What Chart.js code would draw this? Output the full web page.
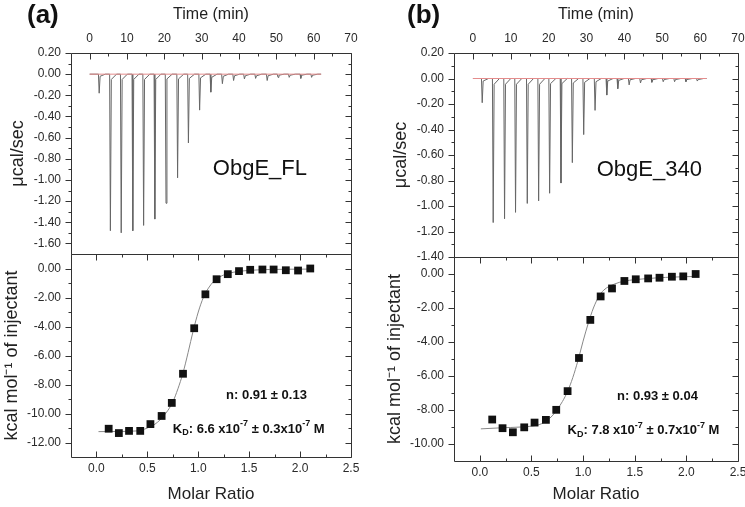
<!DOCTYPE html>
<html>
<head>
<meta charset="utf-8">
<script src="https://cdn.jsdelivr.net/npm/chart.js@4.4.0/dist/chart.umd.min.js"></script>
<style>
  html, body { margin: 0; padding: 0; background: #fff; }
  #wrap { position: relative; width: 745px; height: 507px; overflow: hidden; }
  #wrap canvas { position: absolute; left: 0; top: 0; }
  .tag { position: absolute; font: bold 26px "Liberation Sans", Arial, sans-serif; line-height: 1; color: #111; }
</style>
</head>
<body>
<div id="wrap">
  <canvas id="aTop" width="745" height="507"></canvas>
  <canvas id="aBot" width="745" height="507"></canvas>
  <canvas id="bTop" width="745" height="507"></canvas>
  <canvas id="bBot" width="745" height="507"></canvas>
  <div class="tag" style="left:27px;top:1px">(a)</div>
  <div class="tag" style="left:407px;top:1px">(b)</div>
</div>
<script>
const FONT = '"Liberation Sans", Arial, sans-serif';
const W = 745, H = 507;

// ticks
const timeTicks = [0, 10, 20, 30, 40, 50, 60, 70];
const timeMinor = [5, 15, 25, 35, 45, 55, 65];
const ratioTicks = [0, 0.5, 1, 1.5, 2, 2.5];
const ratioMinor = [0.25, 0.75, 1.25, 1.75, 2.25];
const powerTicksA = [0.2, 0, -0.2, -0.4, -0.6, -0.8, -1.0, -1.2, -1.4, -1.6];
const powerMinorA = [0.1, -0.1, -0.3, -0.5, -0.7, -0.9, -1.1, -1.3, -1.5];
const powerTicksB = [0.2, 0, -0.2, -0.4, -0.6, -0.8, -1.0, -1.2, -1.4];
const powerMinorB = [0.1, -0.1, -0.3, -0.5, -0.7, -0.9, -1.1, -1.3];
const heatTicksA = [0, -2, -4, -6, -8, -10, -12];
const heatMinorA = [-1, -3, -5, -7, -9, -11];
const heatTicksB = [0, -2, -4, -6, -8, -10];
const heatMinorB = [-1, -3, -5, -7, -9];

// raw thermogram, ObgE_FL (a)
const injTimeA = [2.4, 5.4, 8.3, 11.4, 14.3, 17.3, 20.3, 23.4, 26.3, 29.3, 32.3, 35.4, 38.4, 41.3, 44.3, 47.4, 50.3, 53.3, 56.4, 59.3];
const peakA = [-0.18, -1.48, -1.50, -1.48, -1.43, -1.37, -1.22, -0.98, -0.65, -0.34, -0.17, -0.09, -0.06, -0.045, -0.04, -0.06, -0.03, -0.03, -0.04, -0.03];
const tailA = [-0.02, -0.05, -0.05, -0.05, -0.05, -0.05, -0.045, -0.045, -0.04, -0.035, -0.03, -0.02, -0.015, -0.015, -0.015, -0.015, -0.01, -0.01, -0.01, -0.01];
const traceEndA = 62;
const baseTimeA = [0, 62];
const baseA = [0.0, 0.0];

// raw thermogram, ObgE_340 (b)
const injTimeB = [2.3, 5.2, 8.2, 11.1, 14.2, 17.2, 20.1, 23.1, 26.1, 29.1, 32.1, 35.2, 38.1, 41.1, 44.1, 47.1, 50.1, 53.1, 56.1, 59.1];
const peakB = [-0.19, -1.13, -1.10, -1.05, -0.98, -0.96, -0.90, -0.82, -0.66, -0.44, -0.25, -0.13, -0.08, -0.05, -0.035, -0.03, -0.025, -0.025, -0.025, -0.02];
const tailB = [-0.02, -0.045, -0.045, -0.045, -0.045, -0.045, -0.04, -0.04, -0.035, -0.03, -0.025, -0.02, -0.015, -0.01, -0.01, -0.01, -0.008, -0.008, -0.008, -0.008];
const traceEndB = 61.7;
const baseTimeB = [0, 61.7];
const baseB = [0.0, 0.0];

// integrated heats
const ratioA = [0.12, 0.22, 0.32, 0.43, 0.53, 0.64, 0.74, 0.85, 0.96, 1.07, 1.18, 1.29, 1.40, 1.51, 1.63, 1.74, 1.86, 1.98, 2.10];
const heatA = [-11.05, -11.35, -11.2, -11.2, -10.73, -10.17, -9.27, -7.26, -4.12, -1.78, -0.74, -0.39, -0.18, -0.09, -0.07, -0.07, -0.12, -0.14, 0.0];
const fitRatioA = [0.02, 0.2, 0.4, 0.5, 0.6, 0.7, 0.75, 0.8, 0.85, 0.9, 0.95, 1.0, 1.05, 1.1, 1.15, 1.2, 1.3, 1.4, 1.5, 1.7, 2.1];
const fitHeatA = [-11.25, -11.24, -11.2, -11.0, -10.6, -9.8, -9.2, -8.3, -7.2, -5.8, -4.3, -3.0, -2.0, -1.35, -0.9, -0.62, -0.33, -0.2, -0.13, -0.07, -0.04];

const ratioB = [0.12, 0.22, 0.32, 0.43, 0.53, 0.64, 0.74, 0.85, 0.96, 1.07, 1.17, 1.28, 1.40, 1.51, 1.63, 1.74, 1.86, 1.97, 2.09];
const heatB = [-8.56, -9.07, -9.31, -9.02, -8.74, -8.58, -7.99, -6.89, -4.94, -2.70, -1.32, -0.85, -0.41, -0.31, -0.26, -0.22, -0.16, -0.14, 0.0];
const fitRatioB = [0.01, 0.2, 0.4, 0.5, 0.6, 0.7, 0.8, 0.85, 0.9, 0.95, 1.0, 1.05, 1.1, 1.15, 1.2, 1.3, 1.4, 1.6, 1.8, 2.1];
const fitHeatB = [-9.11, -9.05, -9.0, -8.95, -8.8, -8.35, -7.5, -6.9, -6.1, -5.1, -3.95, -2.9, -2.0, -1.35, -0.95, -0.6, -0.42, -0.28, -0.2, -0.14];

function trace(times, peaks, tails, end) {
  const pts = [{ x: 0, y: 0 }];
  times.forEach((t, i) => {
    pts.push({ x: t - 0.05, y: 0 }, { x: t + 0.15, y: peaks[i] }, { x: t + 0.4, y: tails[i] }, { x: t + 1.8, y: 0 });
  });
  pts.push({ x: end, y: 0 });
  return pts;
}
const xy = (xs, ys) => xs.map((x, i) => ({ x: x, y: ys[i] }));

function drawNote(ctx, px, py, n) {
  const big = n.font, small = 'bold 9px ' + FONT;
  let w = 0;
  n.parts.forEach(([t, k]) => { ctx.font = k ? small : big; w += ctx.measureText(t).width; });
  let cx = n.align === 'center' ? px - w / 2 : px;
  ctx.fillStyle = '#111';
  ctx.textAlign = 'left';
  ctx.textBaseline = 'middle';
  n.parts.forEach(([t, k]) => {
    ctx.font = k ? small : big;
    const dy = k === 'sup' ? -5 : (k === 'sub' ? 4 : 0);
    ctx.fillText(t, cx, py + dy);
    cx += ctx.measureText(t).width;
  });
}

// box, inward/outward tick marks and the text notes
const isoFrame = {
  id: 'isoFrame',
  afterDraw(chart, args, o) {
    const { ctx, chartArea: a, scales: { x, y } } = chart;
    const L = Math.round(a.left) + 0.5, R = Math.round(a.right) + 0.5;
    const T = Math.round(a.top) + 0.5, B = Math.round(a.bottom) + 0.5;
    ctx.save();
    ctx.strokeStyle = '#333';
    ctx.lineWidth = 1;
    ctx.beginPath();
    ctx.rect(L, T, R - L, B - T);
    [[o.yMajor, 6], [o.yMinor, 3]].forEach(([vals, len]) => vals.forEach(v => {
      const p = Math.round(y.getPixelForValue(v)) + 0.5;
      ctx.moveTo(L - len, p); ctx.lineTo(L, p);
      ctx.moveTo(R - len, p); ctx.lineTo(R, p);
    }));
    [[o.xMajor, 6], [o.xMinor, 3]].forEach(([vals, len]) => vals.forEach(v => {
      const p = Math.round(x.getPixelForValue(v)) + 0.5;
      if (o.top) { ctx.moveTo(p, T); ctx.lineTo(p, T + len); }
      if (o.bottom) { ctx.moveTo(p, B); ctx.lineTo(p, B - len); }
    }));
    ctx.stroke();
    (o.notes || []).forEach(n => drawNote(ctx, x.getPixelForValue(n.x), y.getPixelForValue(n.y), n));
    ctx.restore();
  }
};

function axis(ticks, size, fmt, pad, extra) {
  return Object.assign({
    type: 'linear',
    afterBuildTicks: s => { s.ticks = ticks.map(v => ({ value: v })); },
    afterFit: s => {
      if (s.isHorizontal()) s.height = size; else s.width = size;
      s.paddingTop = s.paddingBottom = s.paddingLeft = s.paddingRight = 0;
    },
    grid: { display: false, drawTicks: false },
    border: { display: false },
    ticks: { autoSkip: false, maxRotation: 0, padding: pad, color: '#2a2a2a', font: { size: 12 }, callback: fmt }
  }, extra);
}
const f2 = v => v.toFixed(2);
const f1 = v => v.toFixed(1);
const f0 = v => String(v);

function topChart(id, box, traceData, baseData, yMin, yMax, yTicks, yMinor, note) {
  return new Chart(document.getElementById(id), {
    type: 'scatter',
    data: {
      datasets: [
        { data: baseData, showLine: true, borderColor: '#e58c8c', borderWidth: 1, pointRadius: 0 },
        { data: traceData, showLine: true, borderColor: '#666', borderWidth: 1, pointRadius: 0 }
      ]
    },
    options: {
      responsive: false, animation: false,
      layout: { padding: { left: box.l - 71, top: 0, right: W - box.r, bottom: H - box.b } },
      plugins: {
        legend: { display: false }, tooltip: { enabled: false },
        isoFrame: { xMajor: timeTicks, xMinor: timeMinor, yMajor: yTicks, yMinor: yMinor, top: true, bottom: false, notes: [note] }
      },
      scales: {
        x: axis(timeTicks, box.t, f0, 7, {
          position: 'top', min: -5, max: 70,
          title: { display: true, text: 'Time (min)', color: '#222', font: { size: 16 }, padding: { top: 5 } }
        }),
        y: axis(yTicks, 71, f2, 10, {
          min: yMin, max: yMax,
          title: { display: true, text: 'μcal/sec', color: '#222', font: { size: 18 }, padding: { top: 7 } }
        })
      }
    },
    plugins: [isoFrame]
  });
}

function botChart(id, box, pts, fit, yMin, yMax, yTicks, yMinor, notes) {
  return new Chart(document.getElementById(id), {
    type: 'scatter',
    data: {
      datasets: [
        { data: pts, pointStyle: 'rect', pointRadius: 5.5, backgroundColor: '#111', borderColor: '#111', borderWidth: 0 },
        { data: fit, showLine: true, borderColor: '#888', borderWidth: 1, pointRadius: 0, cubicInterpolationMode: 'monotone' }
      ]
    },
    options: {
      responsive: false, animation: false,
      layout: { padding: { left: box.l - 71, top: box.t, right: W - box.r, bottom: 0 } },
      plugins: {
        legend: { display: false }, tooltip: { enabled: false },
        isoFrame: { xMajor: ratioTicks, xMinor: ratioMinor, yMajor: yTicks, yMinor: yMinor, top: true, bottom: true, notes: notes }
      },
      scales: {
        x: axis(ratioTicks, H - box.b, f1, 4, {
          position: 'bottom', min: -0.25, max: 2.5,
          title: { display: true, text: 'Molar Ratio', color: '#222', font: { size: 17 }, padding: { bottom: 2 } }
        }),
        y: axis(yTicks, 71, f2, 10, {
          min: yMin, max: yMax,
          title: { display: true, text: 'kcal mol⁻¹ of injectant', color: '#222', font: { size: 18 }, padding: { top: 1 } }
        })
      }
    },
    plugins: [isoFrame]
  });
}

Chart.defaults.font.family = FONT;

const bold = 'bold 13px ' + FONT;
const big = '22px ' + FONT;

topChart('aTop', { l: 71, r: 351, t: 53, b: 254 },
  trace(injTimeA, peakA, tailA, traceEndA), xy(baseTimeA, baseA),
  -1.7, 0.2, powerTicksA, powerMinorA,
  { x: 33, y: -0.9, align: 'left', font: big, parts: [['ObgE_FL', '']] });

botChart('aBot', { l: 71, r: 351, t: 254, b: 457 },
  xy(ratioA, heatA), xy(fitRatioA, fitHeatA),
  -13, 1, heatTicksA, heatMinorA,
  [
    { x: 1.67, y: -8.72, align: 'center', font: bold, parts: [['n: 0.91 ± 0.13', '']] },
    { x: 0.75, y: -11.07, align: 'left', font: bold, parts: [['K', ''], ['D', 'sub'], [': 6.6 x10', ''], ['-7', 'sup'], [' ± 0.3x10', ''], ['-7', 'sup'], [' M', '']] }
  ]);

topChart('bTop', { l: 454, r: 738, t: 53, b: 257 },
  trace(injTimeB, peakB, tailB, traceEndB), xy(baseTimeB, baseB),
  -1.4, 0.2, powerTicksB, powerMinorB,
  { x: 32.7, y: -0.72, align: 'left', font: big, parts: [['ObgE_340', '']] });

botChart('bBot', { l: 454, r: 738, t: 257, b: 461 },
  xy(ratioB, heatB), xy(fitRatioB, fitHeatB),
  -11, 1, heatTicksB, heatMinorB,
  [
    { x: 1.72, y: -7.18, align: 'center', font: bold, parts: [['n: 0.93 ± 0.04', '']] },
    { x: 0.85, y: -9.18, align: 'left', font: bold, parts: [['K', ''], ['D', 'sub'], [': 7.8 x10', ''], ['-7', 'sup'], [' ± 0.7x10', ''], ['-7', 'sup'], [' M', '']] }
  ]);
</script>
</body>
</html>
